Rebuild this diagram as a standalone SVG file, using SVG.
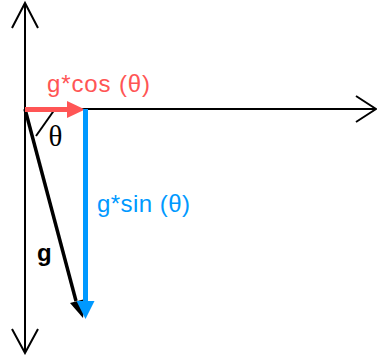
<svg xmlns="http://www.w3.org/2000/svg" width="377" height="355" viewBox="0 0 377 355">
<style>
.axis{stroke:#000;stroke-width:2;fill:none}
.lbl{font-family:"Liberation Sans",Arial,sans-serif;font-size:24px}
</style>
<rect width="377" height="355" fill="#fff"/>
<g id="connectors">
<g id="axes">
<line class="axis" x1="25" y1="3" x2="25" y2="353"/>
<polyline class="axis" points="12,28 25,3 38,28"/>
<polyline class="axis" points="12,329 25,353 38,329"/>
<line class="axis" x1="25" y1="109" x2="376" y2="109"/>
<polyline class="axis" points="356,96 376,109 356,122"/>
</g>
<g id="angle">
<line x1="55" y1="109" x2="36" y2="136" stroke="#000" stroke-width="2"/>
</g>
<g id="g-vector">
<line x1="25" y1="109" x2="76" y2="301" stroke="#000" stroke-width="3.5"/>
<polygon points="70,303 85,299 83,318" fill="#000"/>
</g>
<g id="cos-vector">
<line x1="25" y1="109.5" x2="70" y2="109.5" stroke="#FF5555" stroke-width="5"/>
<polygon points="67,101 85,109.5 67,118" fill="#FF5555"/>
</g>
<g id="sin-vector">
<line x1="85.5" y1="109" x2="85.5" y2="304" stroke="#0099FF" stroke-width="5"/>
<polygon points="76.5,301 94.5,301 85.5,319" fill="#0099FF"/>
</g>
</g>
<g id="label-cos"><text class="lbl" x="47" y="92" fill="#FF5555" textLength="103">g*cos (θ)</text></g>
<g id="label-sin"><text class="lbl" x="97" y="212" fill="#0099FF" textLength="93">g*sin (θ)</text></g>
<g id="label-g"><text class="lbl" x="37" y="261" font-size="25" font-weight="bold" fill="#000">g</text></g>
<g id="label-theta"><text x="55.5" y="146" text-anchor="middle" font-family="'Liberation Serif','Times New Roman',serif" font-size="29" fill="#000">θ</text></g>
</svg>
